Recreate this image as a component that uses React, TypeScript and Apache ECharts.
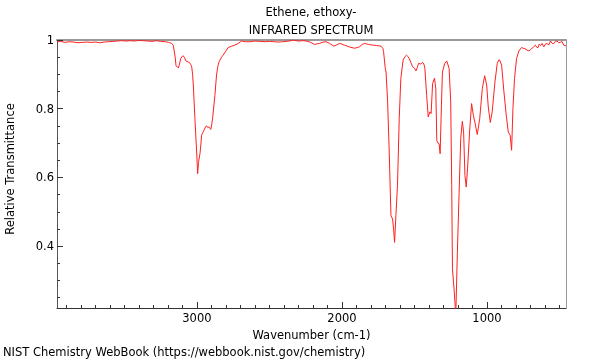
import React, { useEffect, useRef } from "react";
import * as echarts from "echarts";

const titleLine1 = "Ethene, ethoxy-";
const titleLine2 = "INFRARED SPECTRUM";
const xName = "Wavenumber (cm-1)";
const yName = "Relative Transmittance";
const footer = "NIST Chemistry WebBook (https://webbook.nist.gov/chemistry)";

const xMajorTicks = [1000, 2000, 3000];
const yMajorTicks = [0.4, 0.6, 0.8, 1];

const wavenumbers = [
  3965, 3940, 3910, 3880, 3850, 3820, 3790, 3760, 3730, 3700, 3670, 3640, 3610, 3580, 3550, 3520,
  3490, 3460, 3430, 3400, 3370, 3340, 3310, 3280, 3250, 3220, 3195, 3175, 3163, 3150, 3144, 3135,
  3128, 3120, 3112, 3100, 3094, 3085, 3076, 3060, 3053, 3042, 3036, 3030, 3025, 3014, 3002, 2995,
  2990, 2988, 2979, 2972, 2968, 2960, 2952, 2940, 2933, 2925, 2918, 2910, 2904, 2898, 2892, 2876,
  2865, 2855, 2847, 2830, 2819, 2800, 2785, 2760, 2739, 2715, 2693, 2665, 2636, 2600, 2567, 2530,
  2500, 2470, 2440, 2410, 2380, 2350, 2338, 2300, 2270, 2246, 2215, 2189, 2170, 2155, 2130, 2110,
  2085, 2056, 2035, 2017, 2000, 1983, 1950, 1914, 1895, 1880, 1860, 1845, 1815, 1788, 1760, 1731,
  1718, 1713, 1701, 1696, 1685, 1674, 1662, 1651, 1644, 1637, 1628, 1617, 1605, 1594, 1578, 1565,
  1555, 1545, 1536, 1525, 1513, 1500, 1490, 1480, 1472, 1456, 1444, 1435, 1428, 1416, 1405, 1394,
  1385, 1375, 1362, 1353, 1346, 1338, 1330, 1323, 1314, 1307, 1291, 1277, 1261, 1250, 1243, 1238,
  1227, 1215, 1204, 1192, 1181, 1170, 1161, 1152, 1143, 1134, 1120, 1106, 1094, 1082, 1067, 1050,
  1032, 1016, 1002, 991, 977, 964, 945, 929, 918, 913, 899, 883, 867, 853, 840, 830,
  821, 810, 796, 780, 762, 750, 739, 725, 711, 700, 689, 678, 666, 655, 647, 640,
  630, 620, 608, 597, 585, 575, 562, 550, 539, 528, 517, 505, 494, 483, 471, 455,
];

const transmittance = [
  0.994, 0.996, 0.993, 0.995, 0.994, 0.992, 0.993, 0.994, 0.993, 0.994, 0.992, 0.994, 0.995, 0.996, 0.997, 0.998,
  0.997, 0.998, 0.997, 0.999, 0.998, 0.997, 0.996, 0.998, 0.996, 0.995, 0.993, 0.99, 0.985, 0.95, 0.925, 0.921,
  0.919, 0.93, 0.946, 0.953, 0.954, 0.948, 0.939, 0.936, 0.935, 0.928, 0.922, 0.9, 0.869, 0.772, 0.674, 0.611,
  0.64, 0.647, 0.669, 0.7, 0.723, 0.73, 0.737, 0.748, 0.75, 0.745, 0.747, 0.742, 0.74, 0.755, 0.772, 0.839,
  0.898, 0.925, 0.937, 0.95, 0.956, 0.968, 0.978, 0.982, 0.985, 0.99, 0.997, 0.995, 0.995, 0.997, 0.996, 0.995,
  0.996, 0.995, 0.994, 0.995, 0.996, 0.998, 1.0, 0.997, 0.998, 0.997, 0.993, 0.987, 0.989, 0.99, 0.994, 0.995,
  0.99, 0.982, 0.986, 0.99, 0.988, 0.985, 0.98, 0.976, 0.978, 0.98, 0.987, 0.99, 0.987, 0.985, 0.984, 0.982,
  0.976, 0.966, 0.917, 0.907, 0.82, 0.674, 0.489, 0.479, 0.45, 0.411, 0.489, 0.577, 0.771, 0.888, 0.942, 0.952,
  0.956, 0.952, 0.946, 0.935, 0.922, 0.918, 0.91, 0.92, 0.932, 0.93, 0.935, 0.93, 0.917, 0.839, 0.776, 0.791,
  0.786, 0.873, 0.889, 0.86, 0.708, 0.7, 0.698, 0.669, 0.81, 0.907, 0.932, 0.939, 0.917, 0.82, 0.577, 0.334,
  0.275, 0.2, 0.382, 0.557, 0.713, 0.763, 0.732, 0.606, 0.572, 0.625, 0.732, 0.815, 0.781, 0.758, 0.725, 0.771,
  0.859, 0.896, 0.869, 0.805, 0.76, 0.791, 0.878, 0.932, 0.942, 0.942, 0.927, 0.849, 0.781, 0.732, 0.723, 0.679,
  0.8, 0.888, 0.946, 0.968, 0.978, 0.976, 0.975, 0.971, 0.968, 0.972, 0.976, 0.98, 0.985, 0.978, 0.978, 0.988,
  0.984, 0.99, 0.98, 0.988, 0.99, 0.985, 0.997, 0.99, 0.99, 0.996, 0.997, 0.992, 0.993, 0.996, 0.985, 0.983,
];

const X_MIN = 455;
const X_MAX = 3965;
const Y_MIN = 0.22;
const Y_MAX = 1.0;

const FONT = "DejaVu Sans";
const FS = 11.5;

export default function App() {
  const ref = useRef<HTMLDivElement>(null);

  useEffect(() => {
    if (!ref.current) return;
    const chart = echarts.init(ref.current, null, { renderer: "svg" });

    const xMinorTicks: number[] = [];
    for (let v = 500; v <= 3900; v += 100) xMinorTicks.push(v);
    const yMinorTicks: number[] = [];
    for (let i = 5; i <= 20; i++) yMinorTicks.push(Math.round(i * 5) / 100);
    const yMinor = yMinorTicks.filter((v) => v >= Y_MIN && v <= Y_MAX);

    const data = wavenumbers.map((w, i) => [w, transmittance[i]]);

    const hiddenAxis = {
      axisTick: { show: false },
      axisLabel: { show: false },
      splitLine: { show: false },
    };

    chart.setOption({
      animation: false,
      textStyle: { fontFamily: FONT },
      grid: { left: 57, right: 34, top: 40, bottom: 52, containLabel: false },
      xAxis: [
        {
          type: "value",
          inverse: true,
          min: X_MIN,
          max: X_MAX,
          position: "bottom",
          axisLine: { lineStyle: { color: "#333", width: 1 } },
          axisTick: { inside: true, length: 6, customValues: xMajorTicks, lineStyle: { color: "#333" } },
          axisLabel: {
            customValues: xMajorTicks,
            color: "#000",
            fontSize: FS,
            fontFamily: FONT,
            margin: 4,
            formatter: (v: number) => String(v),
          },
          splitLine: { show: false },
          name: xName,
          nameLocation: "middle",
          nameGap: 18,
          nameTextStyle: { color: "#000", fontSize: FS, fontFamily: FONT },
        },
        {
          type: "value",
          inverse: true,
          min: X_MIN,
          max: X_MAX,
          position: "bottom",
          axisLine: { show: false },
          axisTick: { inside: true, length: 3, customValues: xMinorTicks, lineStyle: { color: "#333" } },
          axisLabel: { show: false },
          splitLine: { show: false },
        },
        {
          type: "value",
          inverse: true,
          min: X_MIN,
          max: X_MAX,
          position: "top",
          axisLine: { lineStyle: { color: "#999", width: 2 } },
          ...hiddenAxis,
        },
      ],
      yAxis: [
        {
          type: "value",
          min: Y_MIN,
          max: Y_MAX,
          position: "left",
          axisLine: { show: true, lineStyle: { color: "#555", width: 1 } },
          axisTick: { show: true, inside: true, length: 6, customValues: yMajorTicks, lineStyle: { color: "#333" } },
          axisLabel: {
            customValues: yMajorTicks,
            color: "#000",
            fontSize: FS,
            fontFamily: FONT,
            margin: 3,
            formatter: (v: number) => String(Math.round(v * 10) / 10),
          },
          splitLine: { show: false },
        },
        {
          type: "value",
          min: Y_MIN,
          max: Y_MAX,
          position: "left",
          axisLine: { show: false },
          axisTick: { show: true, inside: true, length: 3, customValues: yMinor, lineStyle: { color: "#333" } },
          axisLabel: { show: false },
          splitLine: { show: false },
        },
        {
          type: "value",
          min: Y_MIN,
          max: Y_MAX,
          position: "right",
          axisLine: { show: true, lineStyle: { color: "#999", width: 1 } },
          ...hiddenAxis,
        },
      ],
      graphic: [
        {
          type: "text",
          x: 311,
          y: 12,
          style: { text: titleLine1, fill: "#000", font: `${FS}px "${FONT}"`, textAlign: "center", textVerticalAlign: "middle" },
        },
        {
          type: "text",
          x: 311,
          y: 30,
          style: { text: titleLine2, fill: "#000", font: `${FS}px "${FONT}"`, textAlign: "center", textVerticalAlign: "middle" },
        },
        {
          type: "text",
          x: 10,
          y: 169,
          rotation: Math.PI / 2,
          style: { text: yName, fill: "#000", font: `${FS}px "${FONT}"`, textAlign: "center", textVerticalAlign: "middle" },
        },
        {
          type: "text",
          x: 3,
          y: 352,
          style: { text: footer, fill: "#000", font: `${FS}px "${FONT}"`, textAlign: "left", textVerticalAlign: "middle" },
        },
      ],
      series: [
        {
          type: "line",
          xAxisIndex: 0,
          yAxisIndex: 0,
          data,
          showSymbol: false,
          symbol: "none",
          clip: true,
          lineStyle: { color: "#ff2020", width: 1 },
        },
      ],
    });

    return () => chart.dispose();
  }, []);

  return (
    <div
      ref={ref}
      style={{ position: "fixed", left: 0, top: 0, width: 600, height: 360 }}
    />
  );
}
